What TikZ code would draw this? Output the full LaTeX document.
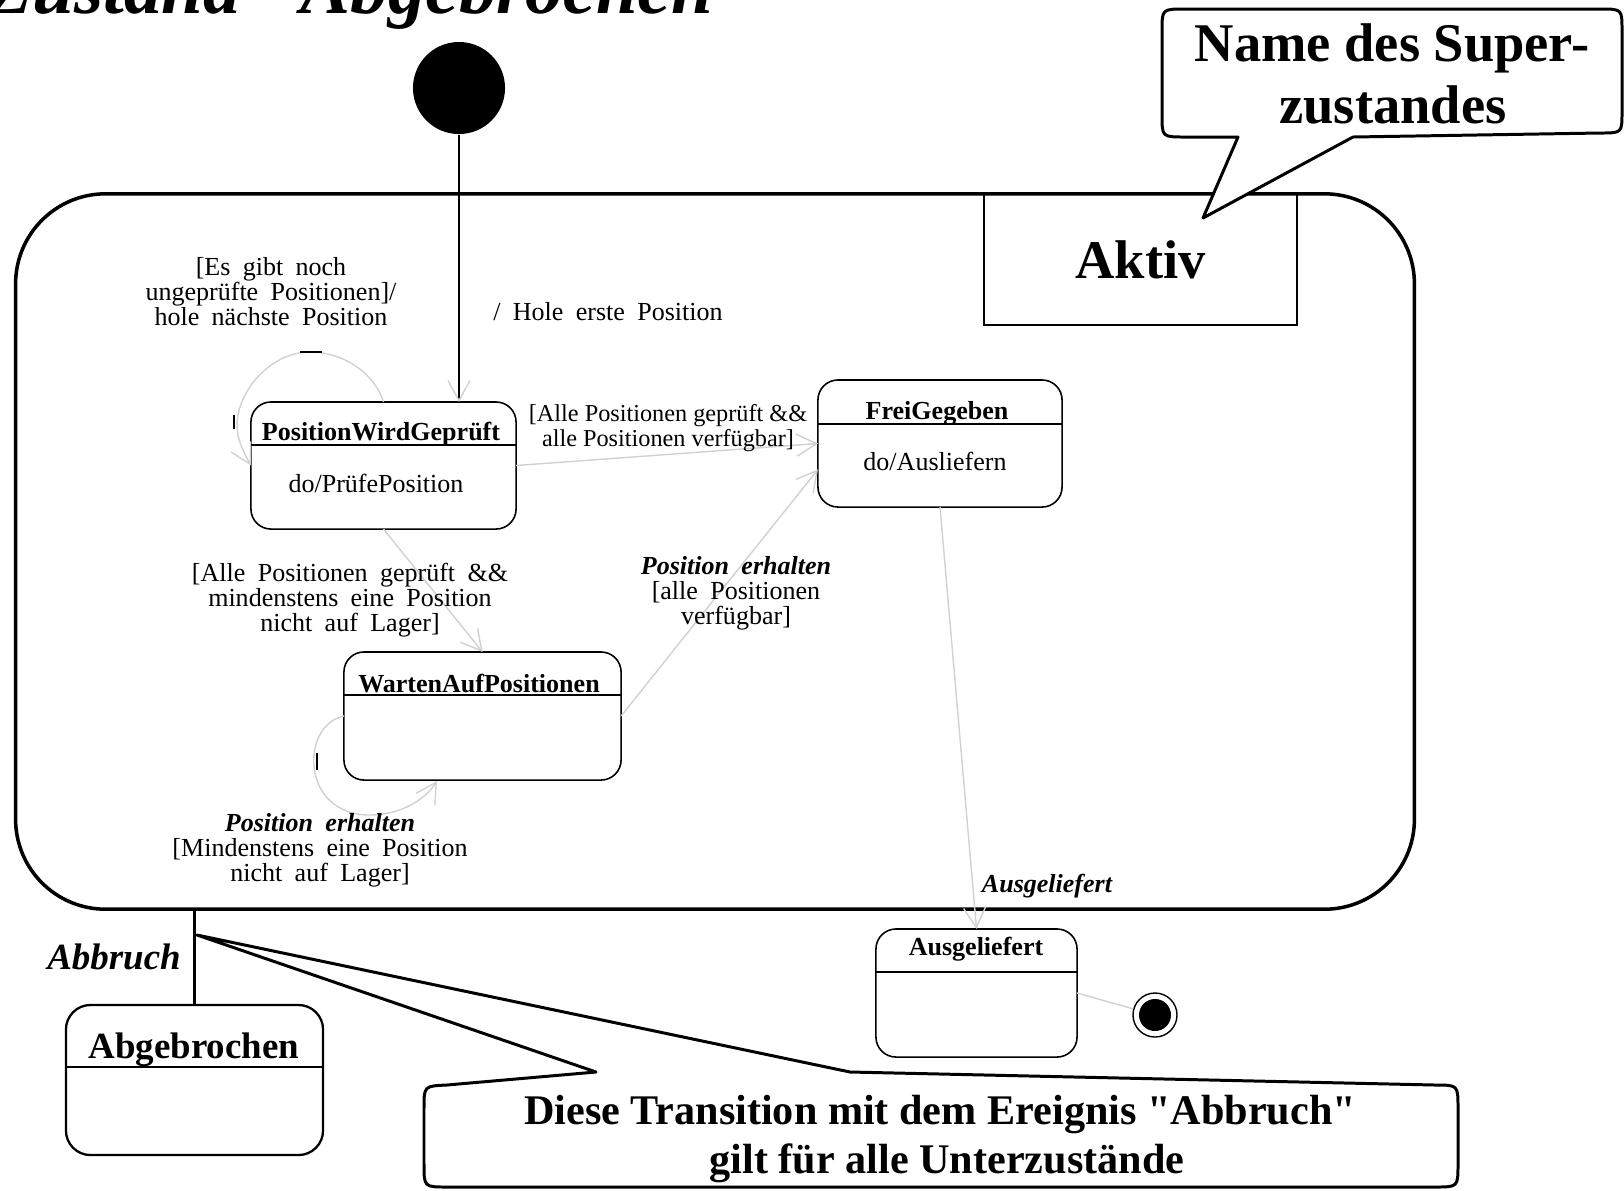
\documentclass[tikz,border=0pt]{standalone}
\usepackage{fontspec}
\setmainfont{Liberation Serif}
\newfontfamily\widefont[WordSpace=1.9]{Liberation Serif}
\usetikzlibrary{arrows.meta}

\begin{document}
\begin{tikzpicture}[x=0.01cm,y=-0.01cm,>={Straight Barb[length=5.7pt,width=6.3pt]},
  state/.style={draw,rounded corners=5.7pt,line width=.45pt,inner sep=0pt,outer sep=0pt},
  divider/.style={path picture={\draw ([yshift=-#1]path picture bounding box.north west)
      -- ([yshift=-#1]path picture bounding box.north east);}},
  trans/.style={draw=black!18,line width=.4pt},
  small/.style={font=\widefont\fontsize{7.4}{7.1}\selectfont,align=center,inner sep=0pt},
  event/.style={small,font=\widefont\fontsize{7.4}{7.1}\selectfont\bfseries\itshape},
  head/.style={font=\fontsize{7.4}{7.4}\selectfont\bfseries,anchor=base,inner sep=0pt},
  body/.style={font=\fontsize{7.4}{7.4}\selectfont,anchor=base,inner sep=0pt},
  big/.style={font=\fontsize{#1}{#1}\selectfont\bfseries,anchor=base,inner sep=0pt},
  balloon/.style={draw,fill=white,line width=.85pt,line join=round}]
  \useasboundingbox (0,0) rectangle (1624,1190);

  \node[anchor=base west,inner sep=0pt,font=\fontsize{21.3}{21.3}\selectfont\bfseries\itshape]
    (title) at (-14,13) {Zustand \textquotedbl Abgebrochen\textquotedbl};

  % superstate
  \node[draw,line width=1pt,rounded corners=25.6pt,inner sep=0pt,
    minimum width=13.98cm,minimum height=7.15cm] (aktiv) at (715,551.5) {};
  \node[draw,line width=.6pt,inner sep=0pt,minimum width=3.13cm,minimum height=1.31cm,
    font=\fontsize{15.5}{15.5}\selectfont\bfseries] (aktivname) at (1140.5,259.5) {Aktiv};

  \node[circle,fill,minimum size=0.92cm,inner sep=0pt] (init) at (459,88) {};

  \node[state,divider=12.2pt,minimum width=2.65cm,minimum height=1.27cm] (pwg) at (383.5,465.5) {};
  \node[head] (pwgH) at (381,440) {PositionWirdGeprüft};
  \node[body] (pwgB) at (376,492) {do/PrüfePosition};

  \node[state,divider=12.5pt,minimum width=2.44cm,minimum height=1.27cm] (fg) at (940,443.5) {};
  \node[head] (fgH) at (937,419) {FreiGegeben};
  \node[body] (fgB) at (935,470) {do/Ausliefern};

  \node[state,divider=12.2pt,minimum width=2.77cm,minimum height=1.28cm] (wap) at (482.5,716) {};
  \node[head] (wapH) at (479,692) {WartenAufPositionen};

  \node[state,divider=12.2pt,minimum width=2.01cm,minimum height=1.28cm] (aus) at (976.5,993) {};
  \node[head] (ausH) at (976,955) {Ausgeliefert};

  \node[circle,draw,line width=.4pt,minimum size=0.44cm,inner sep=0pt,
    path picture={\fill (path picture bounding box.center) circle (0.16cm);}] (fin) at (1155,1015) {};

  \node[state,line width=.65pt,rounded corners=7pt,divider=17.6pt,
    minimum width=2.57cm,minimum height=1.5cm] (abg) at (194.5,1080) {};
  \node[big=10.5] (abgH) at (194,1058) {Abgebrochen};

  % transitions
  \draw[-{Straight Barb[length=5.7pt,width=6.3pt,color=black!18]},line width=.4pt]
    (init) -- (init |- pwg.north);
  \draw[->,trans] (pwg.east) -- (fg.west);
  \draw[->,trans] (pwg.south) -- (wap.north);
  \draw[->,trans] (wap.east) -- (fg.192);
  \draw[->,trans] (fg.south) -- (aus.north);
  \draw[->,trans] (pwg.north) .. controls (373.5,371.5) and (342,352) .. (310,352)
    .. controls (270,352) and (237,392) .. (237,425)
    .. controls (237,439) and (243,451) .. (pwg.west);
  \draw[->,trans] (wap.west) .. controls (300,725) and (300,815) .. (370,815)
    .. controls (400,815) and (425,800) .. (437,781);
  \draw[trans] (aus.east) -- (fin);
  \draw[line width=.6pt] (300,352) -- (322,352) (234,415) -- (234,429) (317,753) -- (317,770);

  \node[small] (lblLoop) at (271,292) {[Es gibt noch\\ungeprüfte Positionen]/\\hole nächste Position};
  \node[small] (lblFirst) at (608,312) {/ Hole erste Position};
  \node[small,font=\fontsize{6.9}{7.1}\selectfont] (lblDone) at (668,428)
    {[Alle Positionen geprüft \&\&\\alle Positionen verfügbar]};
  \node[small] (lblWait) at (350,600) {[Alle Positionen geprüft \&\&\\mindenstens eine Position\\nicht auf Lager]};
  \node[small] (lblGot) at (736,593) {\textbf{\textit{Position erhalten}}\\{[}alle Positionen\\verfügbar]};
  \node[small] (lblStay) at (320,850) {\textbf{\textit{Position erhalten}}\\{[}Mindenstens eine Position\\nicht auf Lager]};
  \node[event] (lblOut) at (1047,886) {Ausgeliefert};

  % Abbruch
  \draw[line width=.65pt] (aktiv.south -| abg) -- (abg);
  \node[big=10.5,font=\fontsize{10.5}{10.5}\selectfont\bfseries\itshape] (abbruch) at (114,969) {Abbruch};

  % notes
  \draw[balloon] (1238,137) -- (1203,218) -- (1353,137) -- (1600,133) .. controls (1622,133) .. (1622,112)
    -- (1622,30) .. controls (1622,9) .. (1600,9) -- (1185,9) .. controls (1162,9) .. (1162,31)
    -- (1162,115) .. controls (1162,137) .. (1185,137) -- cycle;
  \node[big=15.5] (noteTopA) at (1392,61) {Name des Super-};
  \node[big=15.5] (noteTopB) at (1393,123) {zustandes};

  \draw[balloon] (596,1072) -- (197,935) -- (850,1072) -- (1435,1085) .. controls (1458,1085) .. (1458,1108)
    -- (1458,1164) .. controls (1458,1187) .. (1435,1187) -- (447,1187) .. controls (424,1187) .. (424,1164)
    -- (424,1108) .. controls (424,1086) .. (447,1085) -- cycle;
  \node[big=12] (noteBotA) at (940,1124) {Diese Transition mit dem Ereignis \textquotedbl Abbruch\textquotedbl};
  \node[big=12] (noteBotB) at (947,1173) {gilt für alle Unterzustände};
\end{tikzpicture}
\end{document}
